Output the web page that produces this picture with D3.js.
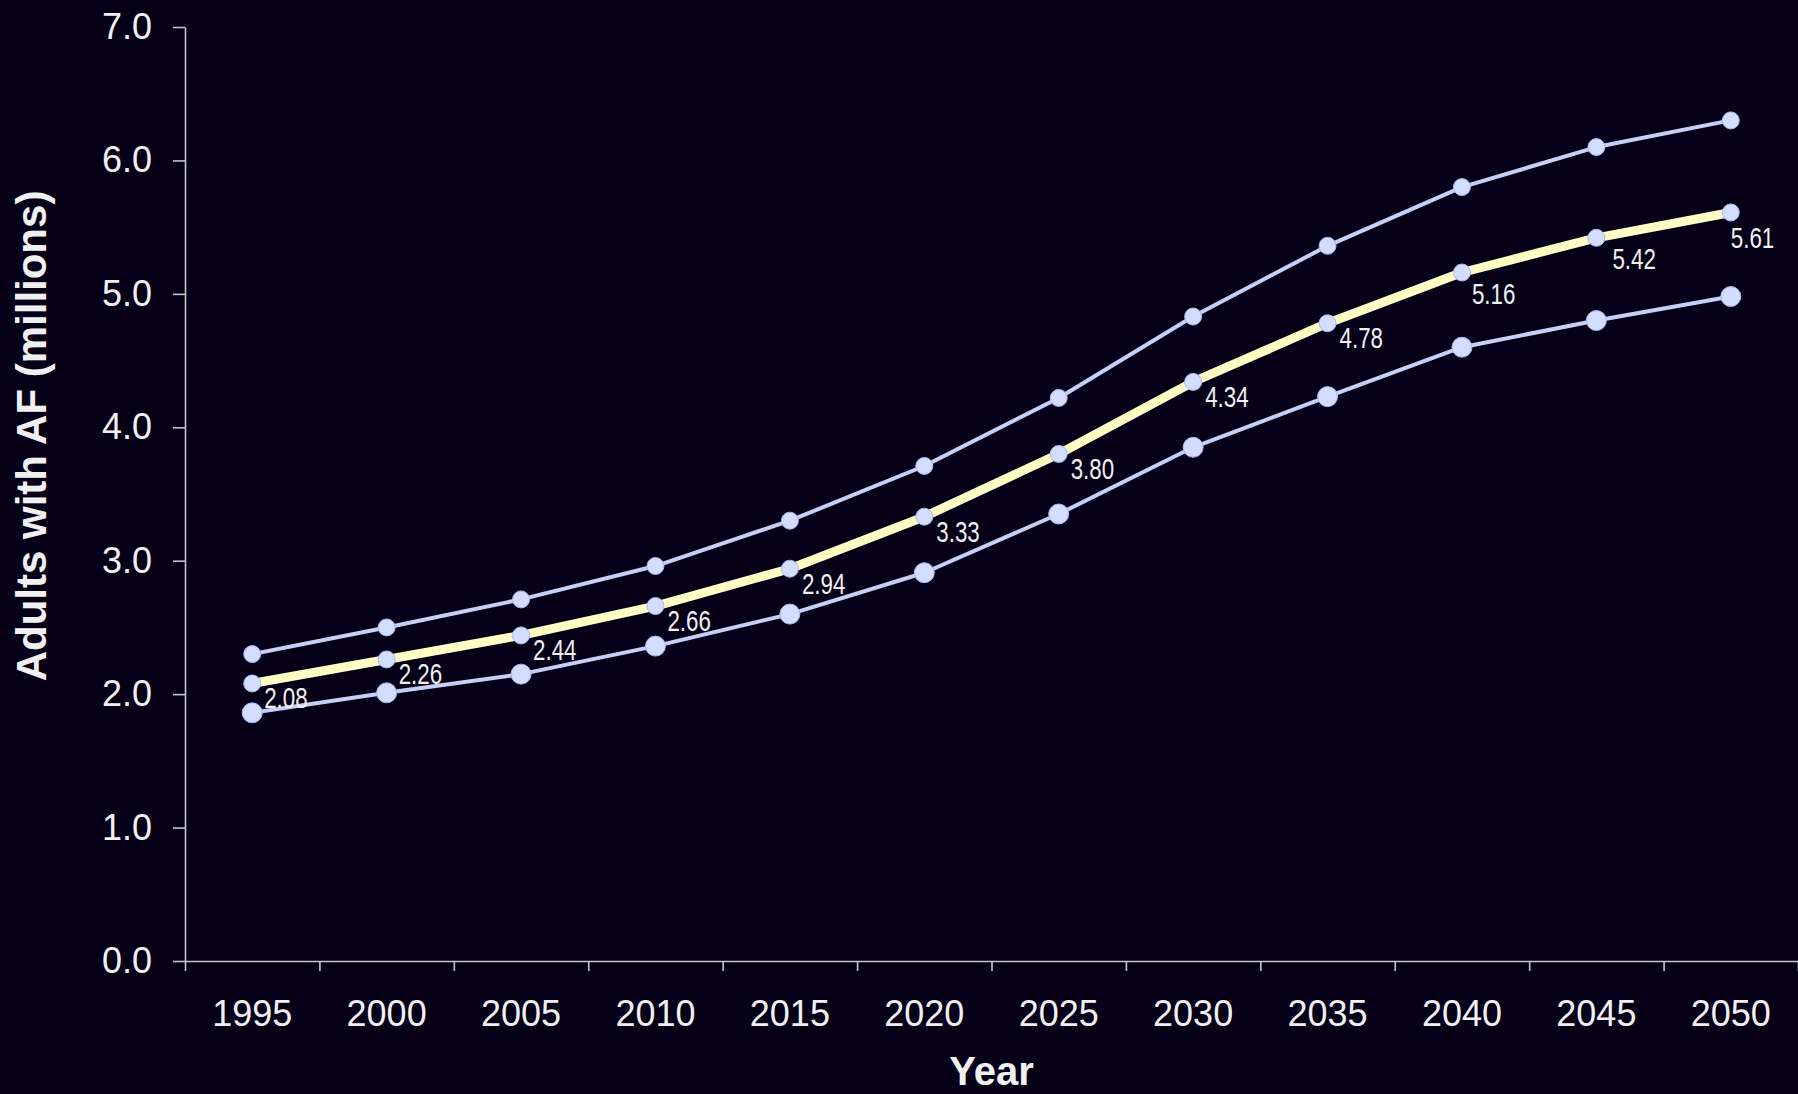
<!DOCTYPE html>
<html>
<head>
<meta charset="utf-8">
<script src="https://cdn.jsdelivr.net/npm/d3@7"></script>
<style>
  html, body { margin: 0; padding: 0; background: #050018; }
  svg { display: block; }
  text { font-family: "Liberation Sans", Arial, sans-serif; }
</style>
</head>
<body>
<svg id="chart" width="1798" height="1094"></svg>
<script>
// Projected number of adults with atrial fibrillation, US, 1995–2050 (millions)
const years = ["1995", "2000", "2005", "2010", "2015", "2020", "2025", "2030", "2035", "2040", "2045", "2050"];
const upperEstimate = [2.30, 2.50, 2.71, 2.96, 3.30, 3.71, 4.22, 4.83, 5.36, 5.80, 6.10, 6.30];
const centralEstimate = [2.08, 2.26, 2.44, 2.66, 2.94, 3.33, 3.80, 4.34, 4.78, 5.16, 5.42, 5.61];
const lowerEstimate = [1.86, 2.01, 2.15, 2.36, 2.60, 2.91, 3.35, 3.85, 4.23, 4.60, 4.80, 4.98];
const yTicks = [0, 1, 2, 3, 4, 5, 6, 7];

const W = 1798, H = 1094;
const plot = { left: 185, right: 1798, top: 27, bottom: 961 };

const svg = d3.select("#chart");
svg.append("rect").attr("width", W).attr("height", H).attr("fill", "#050018");

const x = d3.scaleBand().domain(years).range([plot.left, plot.right]).padding(0);
const xBoundary = d3.scaleLinear().domain([0, years.length]).range([plot.left, plot.right]);
const y = d3.scaleLinear().domain([0, 7]).range([plot.bottom, plot.top]);
const cx = yr => x(yr) + x.bandwidth() / 2;

const axisColor = "#c4c4c8";
const textColor = "#f0f0f2";

// Y axis
const yAxis = svg.append("g")
  .attr("transform", `translate(${plot.left},0)`)
  .call(d3.axisLeft(y).tickValues(yTicks).tickFormat(d3.format(".1f"))
    .tickSize(12).tickSizeOuter(0).tickPadding(21));
yAxis.select(".domain").attr("stroke", axisColor).attr("stroke-width", 1.6);
yAxis.selectAll(".tick line").attr("stroke", axisColor).attr("stroke-width", 1.6);
yAxis.selectAll(".tick text").attr("fill", textColor).attr("font-size", 36)
  .attr("font-family", "'Liberation Sans', Arial, sans-serif");

// X axis: boundary ticks between categories
const xTickAxis = svg.append("g")
  .attr("transform", `translate(0,${plot.bottom})`)
  .call(d3.axisBottom(xBoundary).tickValues(d3.range(years.length + 1))
    .tickFormat("").tickSize(10).tickSizeOuter(0));
xTickAxis.select(".domain").attr("stroke", axisColor).attr("stroke-width", 1.6);
xTickAxis.selectAll(".tick line").attr("stroke", axisColor).attr("stroke-width", 1.6);

// X axis: category labels
const xLabelAxis = svg.append("g")
  .attr("transform", `translate(0,${plot.bottom})`)
  .call(d3.axisBottom(x).tickSize(0).tickPadding(39));
xLabelAxis.select(".domain").remove();
xLabelAxis.selectAll(".tick text").attr("fill", textColor).attr("font-size", 36)
  .attr("font-family", "'Liberation Sans', Arial, sans-serif");

// Axis titles
svg.append("text")
  .attr("transform", "translate(46,436) rotate(-90)")
  .attr("text-anchor", "middle")
  .attr("fill", textColor)
  .attr("font-size", 42)
  .attr("font-weight", "bold")
  .text("Adults with AF (millions)");

svg.append("text")
  .attr("x", (plot.left + plot.right) / 2)
  .attr("y", 1085)
  .attr("text-anchor", "middle")
  .attr("fill", textColor)
  .attr("font-size", 40)
  .attr("font-weight", "bold")
  .text("Year");

// Lines
const line = d3.line().x((d, i) => cx(years[i])).y(d => y(d));

const series = [
  { values: upperEstimate, stroke: "#c6d0f6", width: 4, r: 8.5 },
  { values: lowerEstimate, stroke: "#c6d0f6", width: 4, r: 10 },
  { values: centralEstimate, stroke: "#fdfdc4", width: 9, r: 8.5 }
];

series.forEach(s => {
  svg.append("path")
    .datum(s.values)
    .attr("fill", "none")
    .attr("stroke", s.stroke)
    .attr("stroke-width", s.width)
    .attr("stroke-linejoin", "round")
    .attr("d", line);
});

series.forEach(s => {
  svg.append("g").selectAll("circle")
    .data(s.values)
    .join("circle")
    .attr("cx", (d, i) => cx(years[i]))
    .attr("cy", d => y(d))
    .attr("r", s.r)
    .attr("fill", "#d3ddff")
    .attr("stroke", "#a8b6ee")
    .attr("stroke-width", 1);
});

// Value labels for the central estimate (condensed type)
const labelNudge = { 9: [10, 31], 10: [16, 31], 11: [0, 36] };
svg.append("g").selectAll("text")
  .data(centralEstimate)
  .join("text")
  .attr("transform", (d, i) => {
    const [dx, dy] = labelNudge[i] || [12, 25];
    return `translate(${cx(years[i]) + dx},${y(d) + dy}) scale(0.77,1)`;
  })
  .attr("fill", textColor)
  .attr("font-size", 29)
  .text(d => d.toFixed(2));
</script>
</body>
</html>
